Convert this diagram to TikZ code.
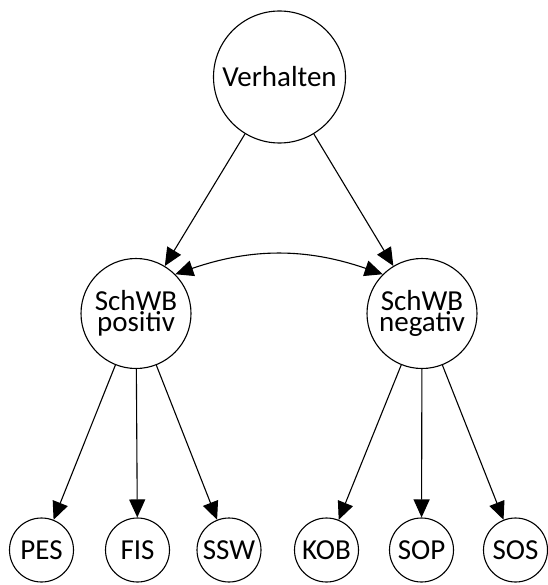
\documentclass[tikz,border=0pt]{standalone}
\usepackage{fontspec}
\setmainfont{Carlito}
\usetikzlibrary{arrows.meta}
\begin{document}
\begin{tikzpicture}[x=1pt,y=-1pt,
  circ/.style={draw,circle,line width=1.1pt,inner sep=0pt,align=center,
    font=\fontsize{29}{21}\selectfont},
  big/.style={circ,minimum size=132pt},
  mid/.style={circ,minimum size=110pt},
  small/.style={circ,minimum size=64pt},
  arr/.style={line width=1.1pt,-{Triangle[length=18pt,width=16pt]}},
  darr/.style={line width=1.1pt,{Triangle[length=18pt,width=16pt]}-{Triangle[length=18pt,width=16pt]}}]
\useasboundingbox (0,0) rectangle (547,585);
\node[big] (v) at (279.5,77) {Verhalten};
\node[mid] (p) at (136,313.5) {SchWB\\positiv};
\node[mid] (n) at (422,313.5) {SchWB\\negativ};
\node[small] (pes) at (41.5,550) {PES};
\node[small] (fis) at (137.5,550) {FIS};
\node[small] (ssw) at (229,550) {SSW};
\node[small] (kob) at (326.5,550) {KOB};
\node[small] (sop) at (421.5,550) {SOP};
\node[small] (sos) at (515.5,550) {SOS};
\draw[arr] (v) -- (p);
\draw[arr] (v) -- (n);
\draw[darr] (p.45) to[bend left=19] (n.135);
\draw[arr] (p) -- (pes);
\draw[arr] (p) -- (fis);
\draw[arr] (p) -- (ssw);
\draw[arr] (n) -- (kob);
\draw[arr] (n) -- (sop);
\draw[arr] (n) -- (sos);
\end{tikzpicture}
\end{document}
